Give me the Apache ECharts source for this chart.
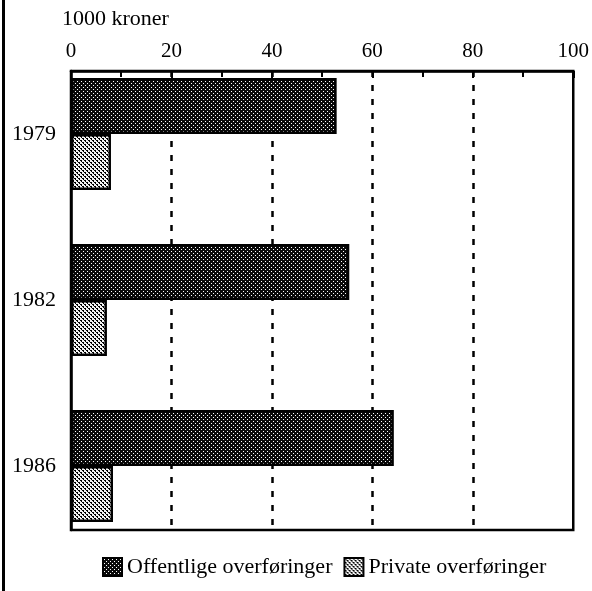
<!DOCTYPE html>
<html lang="en">
<head>
    <meta charset="UTF-8">
    <title>Overføringer</title>
    <script type="text/javascript" src="https://cdnjs.cloudflare.com/ajax/libs/echarts/6.0.0/echarts.min.js"></script>
    <style>
        html, body { margin: 0; padding: 0; background: #fff; }
    </style>
</head>
<body>

<div id="main" style="width:592px;height:591px"></div>
<script type="text/javascript">

    var years = ['1979', '1982', '1986'];
    var offentlige = [52.5, 55, 63.8];
    var privat = [7.9, 7.1, 8.3];
    var seriesNames = ['Offentlige overføringer', 'Private overføringer'];
    var unitLabel = '1000 kroner';

    var font = '"Liberation Serif", "DejaVu Serif", serif';

    // dotted fill patterns like the printed original
    function makePattern(size, bg, fg, dots) {
        var c = document.createElement('canvas');
        c.width = size; c.height = size;
        var ctx = c.getContext('2d');
        ctx.fillStyle = bg;
        ctx.fillRect(0, 0, size, size);
        ctx.fillStyle = fg;
        dots.forEach(function (d) { ctx.fillRect(d[0], d[1], d[2] || 1, d[3] || 1); });
        return c;
    }
    var darkPat = makePattern(4, '#0a0a0a', '#fff', [[1, 1], [3, 3]]);
    var lightPat = makePattern(4, '#f4f4f4', '#000', [[0, 0, 2, 1], [2, 2, 2, 1], [1, 1], [3, 3]]);

    window.onload = function () {
        var myChart = echarts.init(document.getElementById('main'));
        var option = {
            animation: false,
            title: {
                text: unitLabel,
                left: 57,
                top: 3,
                textStyle: { fontFamily: font, fontSize: 22, fontWeight: 'normal', color: '#000' }
            },
            legend: {
                data: seriesNames,
                left: 97,
                top: 551,
                itemWidth: 19,
                itemHeight: 18,
                itemGap: 11,
                icon: 'rect',
                textStyle: { fontFamily: font, fontSize: 22, color: '#000' }
            },
            grid: [
                { left: 71, width: 506, top: 51, height: 498 },
                { left: 71, width: 506, top: 71, height: 459, show: true, borderColor: '#000', borderWidth: 2.5, backgroundColor: 'transparent' }
            ],
            xAxis: [
                { gridIndex: 0, type: 'value', min: 0, max: 100, show: false },
                {
                    gridIndex: 1, type: 'value', position: 'top', min: 0, max: 100, interval: 20,
                    axisLine: { show: true, lineStyle: { color: '#000', width: 2.5 } },
                    axisTick: { show: true, inside: true, length: 7, lineStyle: { color: '#000', width: 2 } },
                    minorTick: { show: true, splitNumber: 2, length: 6, lineStyle: { color: '#000', width: 2 } },
                    axisLabel: { fontFamily: font, fontSize: 21, color: '#000', margin: 9 },
                    splitLine: { show: true, showMinLine: false, showMaxLine: false, lineStyle: { color: '#000', width: 2.5, type: [6, 8] } }
                }
            ],
            yAxis: [
                {
                    gridIndex: 0, type: 'category', data: years, inverse: true,
                    axisLine: { show: false }, axisTick: { show: false },
                    axisLabel: { fontFamily: font, fontSize: 22, color: '#000', margin: 15 }
                },
                {
                    gridIndex: 1, type: 'category', data: years, show: true,
                    axisLine: { show: true, lineStyle: { color: '#000', width: 2.5 } },
                    axisTick: { show: false }, axisLabel: { show: false }, splitLine: { show: false }
                }
            ],
            series: [
                {
                    name: seriesNames[0], type: 'bar', xAxisIndex: 0, yAxisIndex: 0,
                    data: offentlige, barWidth: 56, barGap: '0%',
                    itemStyle: { color: { image: darkPat, repeat: 'repeat' }, borderColor: '#000', borderWidth: 2.5 }
                },
                {
                    name: seriesNames[1], type: 'bar', xAxisIndex: 0, yAxisIndex: 0,
                    data: privat, barWidth: 56, barGap: '0%',
                    itemStyle: { color: { image: lightPat, repeat: 'repeat' }, borderColor: '#000', borderWidth: 2.5 }
                }
            ],
            graphic: [
                { type: 'line', shape: { x1: 3.5, y1: 0, x2: 3.5, y2: 591 }, style: { stroke: '#000', lineWidth: 3 } }
            ]
        };
        myChart.setOption(option, true);
    }

</script>

</body>
</html>
